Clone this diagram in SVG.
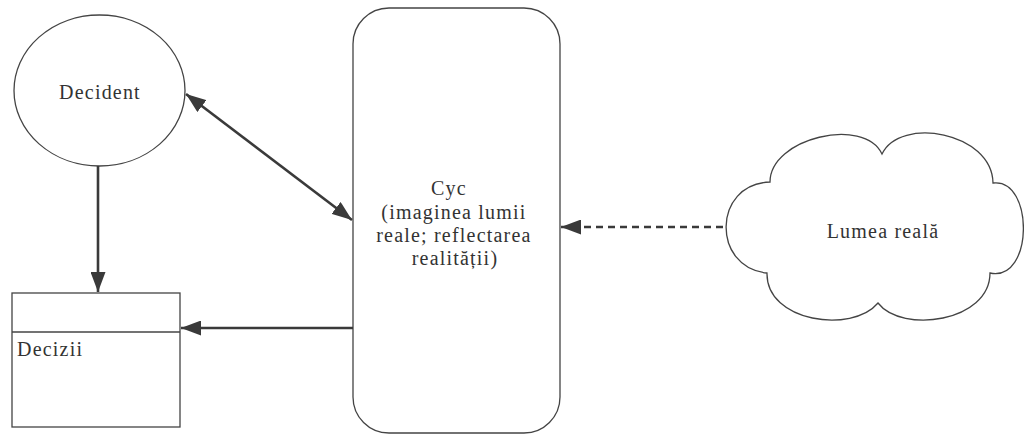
<svg xmlns="http://www.w3.org/2000/svg" width="1024" height="436" viewBox="0 0 1024 436">
<style>
.shape{fill:#fff;stroke:#444;stroke-width:1.3}
.lbl{font-family:"Liberation Serif","Times New Roman",serif;font-size:20px;fill:#333;letter-spacing:1.2px}
.c{stroke:#3a3a3a;stroke-width:2.6;fill:none}
.d{stroke:#3a3a3a;stroke-width:2.6;fill:none;stroke-dasharray:7 5}
</style>
<defs>
<marker id="ah" viewBox="0 0 20 15" refX="20" refY="7.5" markerWidth="20" markerHeight="15" markerUnits="userSpaceOnUse" orient="auto-start-reverse">
<path d="M0,0 L20,7.5 L0,15 z" fill="#3a3a3a"/>
</marker>
</defs>
<rect width="1024" height="436" fill="#fff"/>
<g id="decident">
<ellipse class="shape" cx="99.5" cy="90.5" rx="85.5" ry="75.5"/>
<text class="lbl" x="100" y="99" text-anchor="middle">Decident</text>
</g>
<g id="decizii">
<rect class="shape" x="12" y="293" width="168" height="134"/>
<line class="shape" x1="12" y1="332" x2="180" y2="332"/>
<text class="lbl" x="17" y="356">Decizii</text>
</g>
<g id="cyc">
<rect class="shape" x="353" y="8" width="207" height="425" rx="36" ry="36"/>
<text class="lbl" text-anchor="middle">
<tspan x="452" y="195">Cyc</tspan>
<tspan x="457" y="219">(imaginea lumii</tspan>
<tspan x="457" y="242">reale; reflectarea</tspan>
<tspan x="455" y="265">realității)</tspan>
</text>
</g>
<g id="lumea">
<path class="shape" d="M770,182 C770,138 864,116 882,154 C900,116 992,132 993,183 C1034,178 1034,282 990,273 C990,322 902,334 878,303 C852,334 766,322 767,273 C712,268 712,184 770,182 Z"/>
<text class="lbl" x="883" y="238" text-anchor="middle">Lumea reală</text>
</g>
<g id="connectors">
<line class="c" x1="98" y1="166" x2="98" y2="292" marker-end="url(#ah)"/>
<line class="c" x1="186" y1="94" x2="352" y2="220" marker-start="url(#ah)" marker-end="url(#ah)"/>
<line class="c" x1="353" y1="328" x2="181" y2="328" marker-end="url(#ah)"/>
<line class="d" x1="723" y1="227" x2="561" y2="227" marker-end="url(#ah)"/>
</g>
</svg>
